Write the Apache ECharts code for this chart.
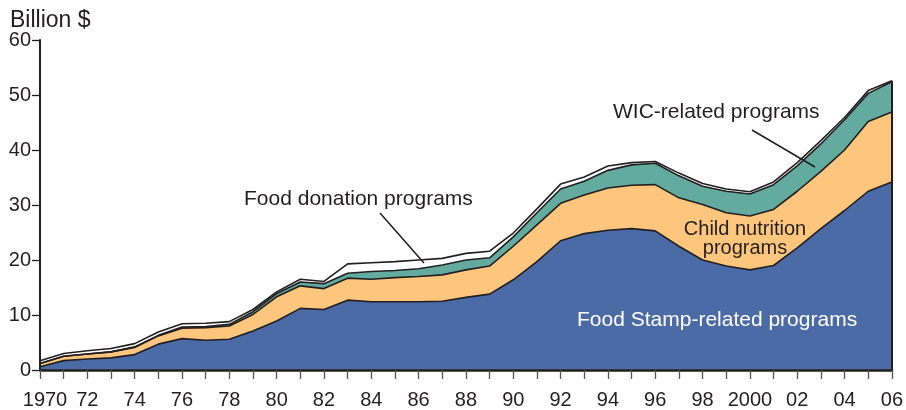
<!DOCTYPE html>
<html>
<head>
<meta charset="utf-8">
<script src="https://cdn.jsdelivr.net/npm/echarts@6/dist/echarts.min.js"></script>
<style>
  html, body { margin: 0; padding: 0; background: #fff; }
  #container { width: 906px; height: 410px; }
</style>
</head>
<body>
<div id="container"></div>
<script>
var years = [];
for (var y = 1970; y <= 2006; y++) years.push(String(y));

// billion $
var foodStamp = [0.6, 1.7, 2.0, 2.2, 2.8, 4.7, 5.7, 5.4, 5.6, 7.1, 8.9, 11.2, 11.0, 12.7, 12.4, 12.4, 12.4, 12.5, 13.2, 13.8,
    16.4, 19.7, 23.5, 24.8, 25.4, 25.7, 25.3, 22.5, 20.0, 18.9, 18.2, 19.0, 22.2, 25.7, 29.0, 32.5, 34.2];
var childNutrition = [0.6, 0.8, 0.9, 1.1, 1.3, 1.5, 1.9, 2.3, 2.4, 3.0, 4.4, 4.1, 3.8, 4.0, 4.1, 4.4, 4.6, 4.8, 5.0, 5.1,
    6.1, 6.7, 6.8, 7.0, 7.7, 7.9, 8.4, 8.8, 10.1, 9.7, 9.8, 10.2, 10.3, 10.4, 11.0, 12.7, 12.7];
var wic = [0, 0, 0, 0, 0.1, 0.1, 0.2, 0.2, 0.3, 0.5, 0.6, 0.7, 0.9, 0.9, 1.4, 1.3, 1.4, 1.8, 1.8, 1.5,
    1.7, 2.2, 2.6, 2.5, 3.2, 3.7, 3.9, 4.0, 3.3, 3.9, 4.0, 4.5, 4.6, 5.0, 5.5, 5.1, 5.5];
var foodDonation = [0.5, 0.5, 0.6, 0.6, 0.6, 0.6, 0.6, 0.6, 0.5, 0.4, 0.3, 0.5, 0.4, 1.7, 1.6, 1.6, 1.6, 1.2, 1.2, 1.2,
    0.7, 0.7, 0.9, 0.8, 0.8, 0.4, 0.3, 0.5, 0.5, 0.4, 0.4, 0.5, 0.6, 0.6, 0.4, 0.5, 0.2];

var lastIdx = years.length - 1;
var lastTotal = foodStamp[lastIdx] + childNutrition[lastIdx] + wic[lastIdx] + foodDonation[lastIdx];

var font = "'Liberation Sans', Arial, sans-serif";
var ink = '#231f20';

var dom = document.getElementById("container");
var myChart = echarts.init(dom);

function layer(name, data, color) {
    return {
        name: name,
        type: 'line',
        stack: 'total',
        data: data,
        symbol: 'none',
        smooth: false,
        animation: false,
        lineStyle: { color: ink, width: 1.6 },
        areaStyle: { color: color, opacity: 1 }
    };
}

var series = [
    layer('Food Stamp-related programs', foodStamp, '#4a6ba5'),
    layer('Child nutrition programs', childNutrition, '#fdc67c'),
    layer('WIC-related programs', wic, '#63ab9e'),
    layer('Food donation programs', foodDonation, '#ffffff')
];
series[3].markLine = {
    silent: true,
    symbol: 'none',
    label: { show: false },
    lineStyle: { color: ink, width: 2, type: 'solid' },
    data: [[{ coord: [years[lastIdx], 0] }, { coord: [years[lastIdx], lastTotal] }]]
};

var option = {
    animation: false,
    grid: { left: 40, right: 14, top: 40, bottom: 39 },
    xAxis: {
        type: 'category',
        data: years,
        boundaryGap: false,
        z: 5,
        axisLine: { lineStyle: { color: ink, width: 2.5 } },
        axisTick: { show: true, interval: 0, length: 9, lineStyle: { color: '#555', width: 1.3 } },
        axisLabel: {
            interval: 1,
            margin: 20,
            color: ink,
            fontFamily: font,
            fontSize: 20,
            formatter: function (v) {
                if (v === '1970') return '{first|1970}';
                if (v === '2000') return v;
                return v.slice(2);
            },
            rich: {
                first: { padding: [0, 0, 0, 10], color: ink, fontFamily: font, fontSize: 20 }
            }
        },
        splitLine: { show: false }
    },
    yAxis: {
        type: 'value',
        min: 0,
        max: 60,
        interval: 10,
        z: 5,
        axisLine: { show: true, lineStyle: { color: ink, width: 2 } },
        axisTick: { show: true, length: 8, lineStyle: { color: ink, width: 1.3 } },
        axisLabel: { margin: 9, color: ink, fontFamily: font, fontSize: 20, padding: [8, 0, 0, 0] },
        splitLine: { show: false }
    },
    graphic: [
        { type: 'text', z: 100, left: 10, top: 9, style: { text: 'Billion $', fill: ink, font: '23px ' + font } },
        { type: 'text', z: 100, x: 244, y: 189, style: { text: 'Food donation programs', fill: ink, font: '21px ' + font } },
        { type: 'line', z: 100, shape: { x1: 380, y1: 213, x2: 424, y2: 263 }, style: { stroke: ink, lineWidth: 1.5 } },
        { type: 'text', z: 100, x: 613, y: 102, style: { text: 'WIC-related programs', fill: ink, font: '21px ' + font } },
        { type: 'line', z: 100, shape: { x1: 752, y1: 130, x2: 815, y2: 167 }, style: { stroke: ink, lineWidth: 1.5 } },
        { type: 'text', z: 100, x: 745, y: 220, style: { text: 'Child nutrition\nprograms', fill: ink, font: '20px ' + font, align: 'center', lineHeight: 19 } },
        { type: 'text', z: 100, x: 577, y: 310, style: { text: 'Food Stamp-related programs', fill: '#ffffff', font: '21px ' + font } }
    ],
    series: series
};

myChart.setOption(option, true);
</script>
</body>
</html>
